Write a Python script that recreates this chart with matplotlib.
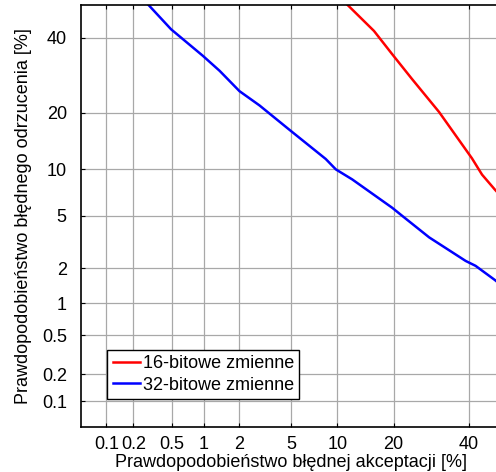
import numpy as np
import matplotlib
matplotlib.use("Agg")
import matplotlib.pyplot as plt
from statistics import NormalDist

plt.rcParams['font.family'] = ['Liberation Sans', 'DejaVu Sans']

# DET curves, values in percent (false acceptance, false rejection)
far_16 = [11.5, 16.0, 19.7, 24.3, 31.4, 41.0, 44.1, 48.1, 50.0]
frr_16 = [50.0, 42.0, 35.1, 28.2, 20.2, 11.6, 9.3, 7.5, 6.8]

far_32 = [0.29, 0.49, 0.98, 1.38, 2.03, 2.93, 4.9, 8.5, 9.8, 12.2, 19.7, 22.0, 28.7, 39.1, 42.1, 48.1, 50.0]
frr_32 = [50.0, 42.5, 34.6, 30.4, 25.1, 21.7, 16.5, 11.5, 10.0, 8.7, 5.7, 5.0, 3.5, 2.3, 2.1, 1.6, 1.45]

ticks = [0.1, 0.2, 0.5, 1, 2, 5, 10, 20, 40]
tick_labels = ['0.1', '0.2', '0.5', '1', '2', '5', '10', '20', '40']

nd = NormalDist()


def _ppf1(p):
    if not np.isfinite(p):
        return np.nan
    return nd.inv_cdf(min(max(p / 100.0, 1e-9), 1 - 1e-9))


def _cdf1(z):
    if not np.isfinite(z):
        return np.nan
    return nd.cdf(z) * 100.0


_ppf = np.vectorize(_ppf1, otypes=[float])
_cdf = np.vectorize(_cdf1, otypes=[float])


def fwd(p):
    return _ppf(np.asarray(p, dtype=float))


def inv(z):
    return _cdf(np.asarray(z, dtype=float))


fs = 13

fig = plt.figure(figsize=(4.96, 4.72), dpi=100)
ax = fig.add_axes([0.1627, 0.0953, 0.8474, 0.894])

ax.plot(far_16, frr_16, color='red', lw=1.8, label='16-bitowe zmienne')
ax.plot(far_32, frr_32, color='blue', lw=1.8, label='32-bitowe zmienne')

ax.set_xscale('function', functions=(fwd, inv))
ax.set_yscale('function', functions=(fwd, inv))
ax.set_xlim(0.05, 50)
ax.set_ylim(0.05, 50)

ax.set_xticks(ticks)
ax.set_xticklabels(tick_labels)
ax.set_yticks(ticks)
ax.set_yticklabels(tick_labels)
ax.minorticks_off()
ax.tick_params(direction='in', top=True, right=True, length=3, labelsize=fs, colors='black')
ax.tick_params(axis='x', pad=6.5)
ax.tick_params(axis='y', pad=10)

ax.grid(True, color='#a8a8a8', lw=0.9)
ax.set_axisbelow(True)
for s in ax.spines.values():
    s.set_linewidth(1.2)

ax.set_xlabel('Prawdopodobieństwo błędnej akceptacji [%]', fontsize=fs, labelpad=1)
ax.set_ylabel('Prawdopodobieństwo błędnego odrzucenia [%]', fontsize=fs, labelpad=7)

leg = ax.legend(loc='lower left', bbox_to_anchor=(0.063, 0.066), fontsize=fs,
                frameon=True, fancybox=False, edgecolor='black', framealpha=1,
                handlelength=1.5, handletextpad=0.17, borderpad=0.3, labelspacing=0.25,
                borderaxespad=0)
leg.get_frame().set_linewidth(1.0)

fig.savefig('out.png', dpi=100)
